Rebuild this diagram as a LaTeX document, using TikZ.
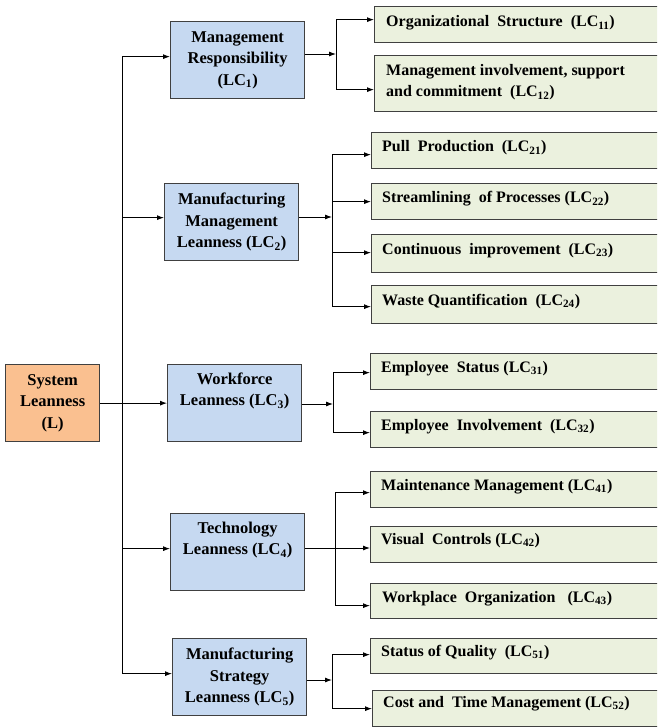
\documentclass[tikz,border=0pt]{standalone}
\usepackage{fontspec}
\setmainfont{Liberation Serif}
\usetikzlibrary{arrows.meta}
\definecolor{bfill}{HTML}{C6D9F1}
\definecolor{gfill}{HTML}{EBF1DE}
\definecolor{ofill}{HTML}{FAC090}
\definecolor{edge}{HTML}{404040}
\begin{document}
\begin{tikzpicture}[x=1pt,y=-1pt,
  bbox/.style={draw=edge, line width=1.3pt, fill=bfill, anchor=north west,
    minimum width=134pt, minimum height=77pt, inner sep=0pt, align=center,
    font=\fontsize{16.5}{21.5}\selectfont\bfseries},
  obox/.style={bbox, fill=ofill, minimum width=94pt},
  gbox/.style={draw=edge, line width=1.3pt, fill=gfill, anchor=north west,
    minimum height=36pt, inner sep=0pt},
  gtext/.style={anchor=base west, inner sep=0pt, align=left,
    font=\fontsize{16}{21}\selectfont\bfseries},
  arr/.style={draw=black, line width=0.9pt, -{Latex[length=7pt,width=5pt]}},
  ln/.style={draw=black, line width=0.9pt}]
\useasboundingbox (0,0) rectangle (657,727);
\clip (0,0) rectangle (657,727);
\fill[white] (0,0) rectangle (657,727);

% main boxes
\node[obox] (L) at (5,364) {System\\Leanness\\(L)};
\node[bbox] (LC1) at (170,21) {Management\\Responsibility\\(LC\textsubscript{1})};
\node[bbox] (LC2) at (164,183) {Manufacturing\\Management\\Leanness (LC\textsubscript{2})};
\node[bbox] (LC3) at (167,364) {Workforce\\Leanness (LC\textsubscript{3})\\\strut};
\node[bbox] (LC4) at (170,513) {Technology\\Leanness (LC\textsubscript{4})\\\strut};
\node[bbox] (LC5) at (172,638) {Manufacturing\\Strategy\\Leanness (LC\textsubscript{5})};

% green boxes
\node[gbox, minimum width=300pt] (c11) at (374,6) {};
\node[gbox, minimum width=300pt, minimum height=56pt] (c12) at (374,55) {};
\node[gbox, minimum width=300pt] (c21) at (371,132) {};
\node[gbox, minimum width=300pt] (c22) at (371,183) {};
\node[gbox, minimum width=300pt, minimum height=38pt] (c23) at (371,234) {};
\node[gbox, minimum width=300pt, minimum height=38pt] (c24) at (371,285) {};
\node[gbox, minimum width=300pt] (c31) at (370,353) {};
\node[gbox, minimum width=300pt] (c32) at (370,411) {};
\node[gbox, minimum width=300pt] (c41) at (370,471) {};
\node[gbox, minimum width=300pt] (c42) at (370,526) {};
\node[gbox, minimum width=300pt, minimum height=35pt] (c43) at (370,583) {};
\node[gbox, minimum width=300pt, minimum height=35pt] (c51) at (370,638) {};
\node[gbox, minimum width=300pt] (c52) at (372,690) {};

% green texts
\node[gtext] (t11) at ([shift={(12pt,-21pt)}]c11.north west) {Organizational\ \ Structure\ \ (LC\textsubscript{11})};
\node[gtext] (t12) at ([shift={(12pt,-42pt)}]c12.north west) {Management involvement, support\\and commitment\ \ (LC\textsubscript{12})};
\node[gtext] (t21) at ([shift={(11pt,-20pt)}]c21.north west) {Pull\ \ Production\ \ (LC\textsubscript{21})};
\node[gtext] (t22) at ([shift={(11pt,-20pt)}]c22.north west) {Streamlining\ \ of Processes (LC\textsubscript{22})};
\node[gtext] (t23) at ([shift={(11pt,-20pt)}]c23.north west) {Continuous\ \ improvement\ \ (LC\textsubscript{23})};
\node[gtext] (t24) at ([shift={(11pt,-20pt)}]c24.north west) {Waste Quantification\ \ (LC\textsubscript{24})};
\node[gtext] (t31) at ([shift={(11pt,-19pt)}]c31.north west) {Employee\ \ Status (LC\textsubscript{31})};
\node[gtext] (t32) at ([shift={(11pt,-19pt)}]c32.north west) {Employee\ \ Involvement\ \ (LC\textsubscript{32})};
\node[gtext] (t41) at ([shift={(11pt,-19pt)}]c41.north west) {Maintenance Management (LC\textsubscript{41})};
\node[gtext] (t42) at ([shift={(11pt,-18pt)}]c42.north west) {Visual\ \ Controls (LC\textsubscript{42})};
\node[gtext] (t43) at ([shift={(12pt,-19pt)}]c43.north west) {Workplace\ \ Organization\ \ \ (LC\textsubscript{43})};
\node[gtext] (t51) at ([shift={(11pt,-18pt)}]c51.north west) {Status of Quality\ \ (LC\textsubscript{51})};
\node[gtext] (t52) at ([shift={(11pt,-17pt)}]c52.north west) {Cost and\ \ Time Management (LC\textsubscript{52})};

% trunk
\coordinate (tk) at (122,402.5);
\draw[arr] (L.east) -- (LC3.west);
\draw[arr] (tk) |- ([yshift=3.5pt]LC1.west);
\draw[arr] (tk) |- ([yshift=4.5pt]LC2.west);
\draw[arr] (tk) |- ([yshift=3.5pt]LC4.west);
\draw[arr] (tk) |- ([yshift=3.5pt]LC5.west);

% group 1
\coordinate (f1) at (336,54);
\draw[arr] (LC1.east |- f1) -- (f1);
\draw[arr] (f1) |- ([yshift=5pt]c11.west);
\draw[arr] (f1) |- ([yshift=-6pt]c12.west);

% group 2
\coordinate (f2) at (332,217);
\draw[arr] (LC2.east |- f2) -- (f2);
\draw[arr] (f2) |- ([yshift=-4pt]c21.west);
\draw[arr] (f2) |- (c22.west);
\draw[arr] (f2) |- ([yshift=1pt]c23.west);
\draw[arr] (f2) |- ([yshift=-2pt]c24.west);

% group 3
\coordinate (f3) at (333,404);
\draw[arr] (LC3.east |- f3) -- (f3);
\draw[arr] (f3) |- ([yshift=-1pt]c31.west);
\draw[arr] (f3) |- ([yshift=-3pt]c32.west);

% group 4
\coordinate (f4) at (335,548);
\draw[arr] (LC4.east |- f4) -- (c42.west |- f4);
\draw[arr] (f4) |- ([yshift=-3pt]c41.west);
\draw[arr] (f4) |- ([yshift=-4.5pt]c43.west);

% group 5
\coordinate (f5) at (332,680);
\draw[arr] (LC5.east |- f5) -- (f5);
\draw[arr] (f5) |- ([yshift=1.5pt]c51.west);
\draw[arr] (f5) |- (c52.west);
\end{tikzpicture}
\end{document}
